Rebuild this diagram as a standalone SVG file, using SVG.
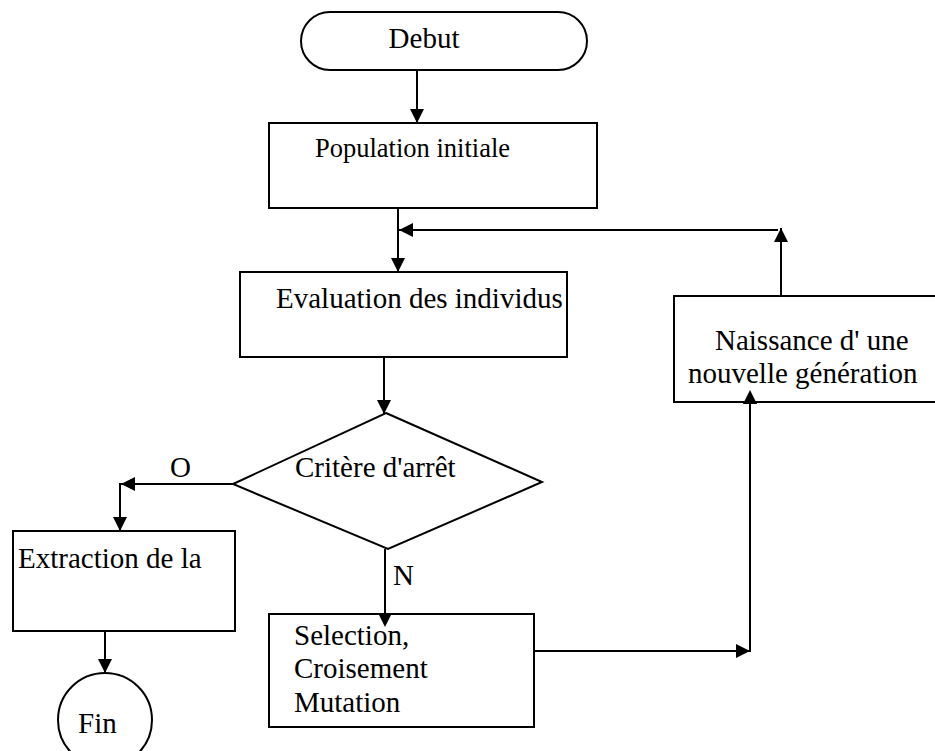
<svg xmlns="http://www.w3.org/2000/svg" width="935" height="751" viewBox="0 0 935 751" font-family="'Liberation Serif', 'Times New Roman', Times, serif">
  <style>
    .shape { fill: #fff; stroke: #000; stroke-width: 2; }
    .wire { fill: none; stroke: #000; stroke-width: 2; }
    text { font-family: 'Liberation Serif', 'Times New Roman', Times, serif; font-size: 29px; fill: #000; }
  </style>
  <defs>
    <marker id="arrow" markerUnits="userSpaceOnUse" markerWidth="14" markerHeight="14" refX="14" refY="7" orient="auto">
      <path d="M0,0 L14,7 L0,14 Z" fill="#000"/>
    </marker>
  </defs>
  <rect width="935" height="751" fill="#fff"/>

  <g id="connectors">
    <line class="wire" x1="417" y1="60" x2="417" y2="123" marker-end="url(#arrow)"/>
    <line class="wire" x1="398" y1="208" x2="398" y2="272" marker-end="url(#arrow)"/>
    <line class="wire" x1="781" y1="296" x2="781" y2="228" marker-end="url(#arrow)"/>
    <line class="wire" x1="778" y1="230" x2="399" y2="230" marker-end="url(#arrow)"/>
    <line class="wire" x1="384" y1="357" x2="384" y2="414" marker-end="url(#arrow)"/>
    <line class="wire" x1="233" y1="484" x2="121" y2="484" marker-end="url(#arrow)"/>
    <line class="wire" x1="120" y1="483" x2="120" y2="531" marker-end="url(#arrow)"/>
    <line class="wire" x1="105" y1="631" x2="105" y2="673" marker-end="url(#arrow)"/>
    <line class="wire" x1="385" y1="549" x2="385" y2="627" marker-end="url(#arrow)"/>
    <line class="wire" x1="534" y1="651" x2="750" y2="651" marker-end="url(#arrow)"/>
    <line class="wire" x1="750" y1="652" x2="750" y2="390" marker-end="url(#arrow)"/>
    <text x="170" y="477">O</text>
    <text x="393" y="585">N</text>
  </g>

  <g id="debut">
    <rect class="shape" x="301" y="12" width="286" height="58" rx="29" ry="29"/>
    <text x="424" y="48" text-anchor="middle">Debut</text>
  </g>

  <g id="population">
    <rect class="shape" x="269" y="123" width="328" height="85"/>
    <text x="315" y="157" style="font-size:26.5px">Population initiale</text>
  </g>

  <g id="evaluation">
    <rect class="shape" x="240" y="272" width="327" height="85"/>
    <text x="276" y="308">Evaluation des individus</text>
  </g>

  <g id="critere">
    <polygon class="shape" points="386,413 542,482 388,549 233,484"/>
    <text x="295" y="477">Critère d'arrêt</text>
  </g>

  <g id="extraction">
    <rect class="shape" x="13" y="531" width="222" height="100"/>
    <text x="18" y="568">Extraction de la</text>
  </g>

  <g id="fin">
    <ellipse class="shape" cx="105" cy="720" rx="47" ry="47"/>
    <text x="78" y="733">Fin</text>
  </g>

  <g id="operateurs">
    <rect class="shape" x="269" y="614" width="265" height="113"/>
    <text x="294" y="645">Selection,</text>
    <text x="294" y="678">Croisement</text>
    <text x="294" y="712">Mutation</text>
  </g>

  <g id="naissance">
    <rect class="shape" x="674" y="296" width="275" height="106"/>
    <text x="715" y="350">Naissance d' une</text>
    <text x="688" y="383">nouvelle génération</text>
  </g>

  <!-- arrowheads that sit over box edges -->
  <g id="overlays">
    <path d="M378,613 L392,613 L385,627 Z" fill="#000"/>
    <path d="M743,404 L757,404 L750,390 Z" fill="#000"/>
  </g>
</svg>
